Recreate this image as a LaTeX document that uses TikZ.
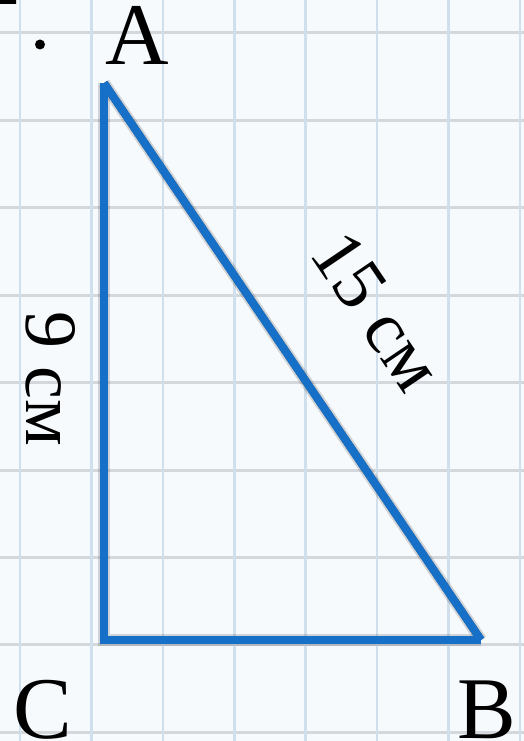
\documentclass[tikz,border=0pt]{standalone}
\usepackage{fontspec}
\setmainfont{Liberation Serif}
\begin{document}
\begin{tikzpicture}[x=1pt,y=-1pt,
  vgrid/.style={draw=gridblue,line width=2.6pt},
  hgrid/.style={draw=gridgray,line width=3pt},
  side/.style={draw=sideblue,line width=8pt},
  shade/.style={draw=black,line width=#1},
  letter/.style={font=\fontsize{88}{90}\selectfont,inner sep=0pt,anchor=base},
  measure/.style={font=\fontsize{74}{76}\selectfont,inner sep=0pt}]
\definecolor{gridblue}{RGB}{208,223,237}
\definecolor{gridgray}{RGB}{212,216,220}
\definecolor{sideblue}{RGB}{22,112,200}
\definecolor{paper}{RGB}{246,250,253}
\fill[paper] (0,0) rectangle (524,741);
\useasboundingbox (0,0) rectangle (524,741);
\begin{scope}
\clip (0,0) rectangle (524,741);
\foreach \i in {0,...,8} \draw[hgrid] (0,{33+87.4*\i}) -- (524,{33+87.4*\i});
\foreach \i in {0,...,7} \draw[vgrid] ({20+71.43*\i},0) -- ({20+71.43*\i},741);
\node[letter] (two) at (0,5) {2};
\end{scope}
\coordinate (A) at (104,83);
\coordinate (C) at (104,640);
\coordinate (B) at (481,640);
% shadow
\begin{scope}[shift={(-3,5)}]
\draw[shade=12pt,opacity=0.15,line join=miter] (A) -- (C) -- (B);
\draw[shade=12pt,opacity=0.15] (A) -- (B);
\draw[shade=8pt,opacity=0.5,line join=miter] (A) -- (C) -- (B);
\draw[shade=8pt,opacity=0.5] (A) -- (B);
\end{scope}
% triangle
\draw[side,line join=miter] (A) -- (C) -- (B);
\draw[side] (A) -- (B);
% labels
\fill (40,44.5) circle (5);
\node[letter] (lA) at (137,65) {A};
\node[letter] (lC) at (43,738) {C};
\node[letter] (lB) at (487,738) {B};
\node[measure,anchor=base,rotate=-90] (l9) at (26,379) {9 см};
\node[measure,anchor=center,rotate=-55.9] (l15) at (377,311) {15 см};
\end{tikzpicture}
\end{document}
